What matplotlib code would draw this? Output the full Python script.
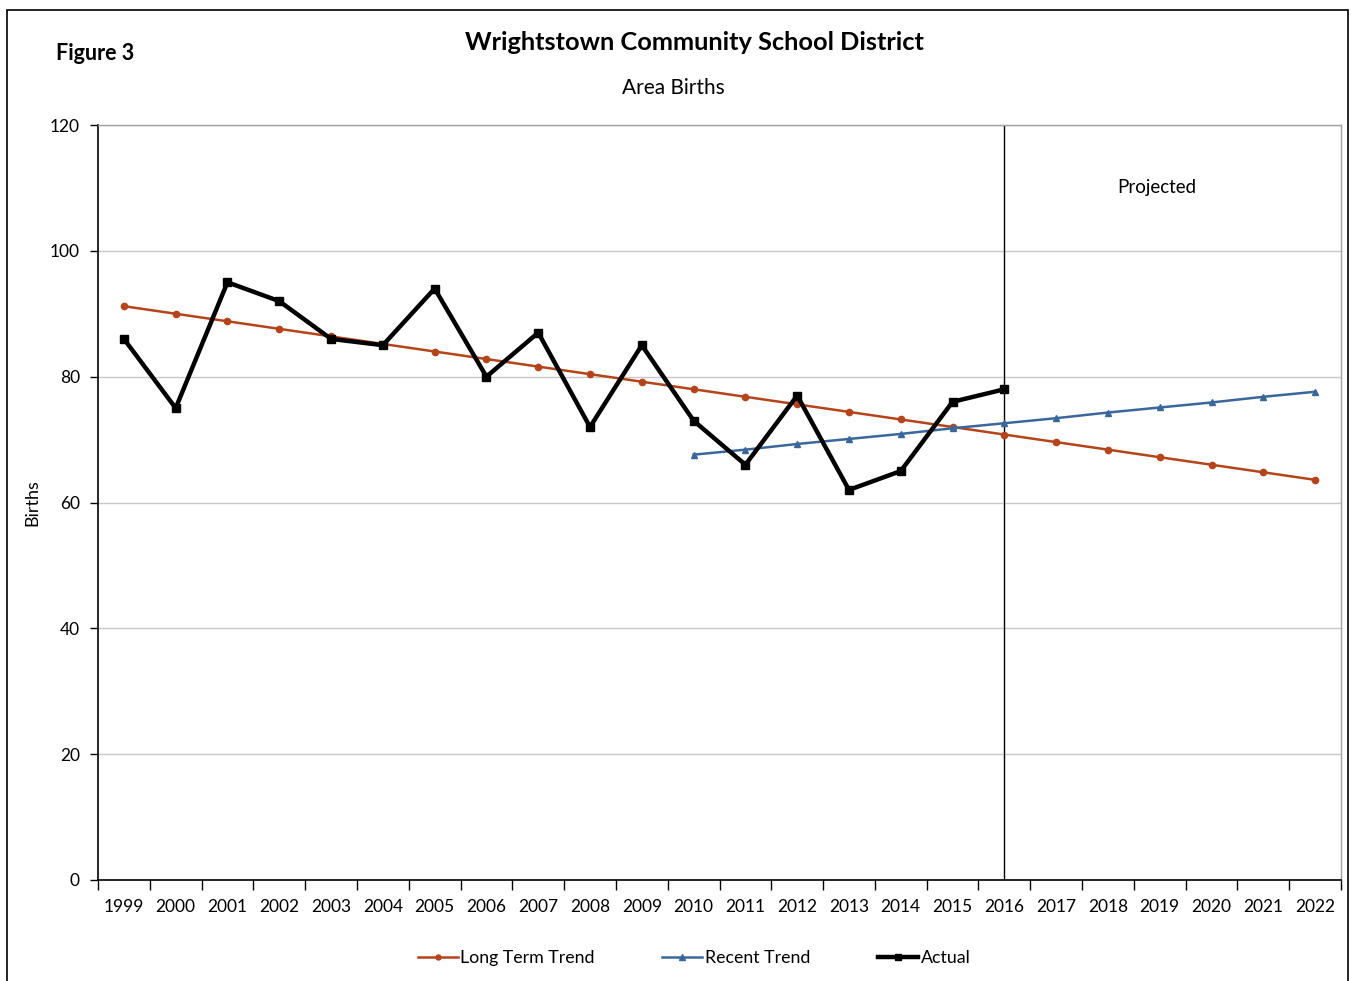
import matplotlib
matplotlib.use("Agg")
import matplotlib.pyplot as plt
from matplotlib.patches import Rectangle

years = [str(y) for y in range(1999, 2023)]
actual = [86, 75, 95, 92, 86, 85, 94, 80, 87, 72, 85, 73, 66, 77, 62, 65, 76, 78]
long_term = [91.2, 90.0, 88.8, 87.6, 86.4, 85.2, 84.0, 82.8, 81.6, 80.4, 79.2, 78.0,
             76.8, 75.6, 74.4, 73.2, 72.0, 70.8, 69.6, 68.4, 67.2, 66.0, 64.8, 63.6]
recent_years = [str(y) for y in range(2010, 2023)]
recent = [67.6, 68.4, 69.3, 70.1, 70.9, 71.8, 72.6, 73.4, 74.3, 75.1, 75.9, 76.8, 77.6]
yticks = [0, 20, 40, 60, 80, 100, 120]
split_year = "2016"

plt.rcParams['font.family'] = ['Lato', 'DejaVu Sans']

fig = plt.figure(figsize=(13.51, 9.81), dpi=100)
ax = fig.add_axes([98/1351, 1-880/981, (1341-98)/1351, (880-125)/981])

idx = {y: i for i, y in enumerate(years)}
x_all = list(range(len(years)))
x_act = x_all[:len(actual)]
x_rec = [idx[y] for y in recent_years]

orange = '#B5441B'
blue = '#3A679B'

ax.plot(x_all, long_term, color=orange, lw=1.8, marker='o', ms=4.5, label='Long Term Trend', zorder=3)
ax.plot(x_rec, recent, color=blue, lw=1.8, marker='^', ms=5, label='Recent Trend', zorder=3)
ax.plot(x_act, actual, color='black', lw=3.2, marker='s', ms=6, label='Actual', zorder=4)

ax.axvline(idx[split_year], color='black', lw=1.0, zorder=2)
ax.text(idx[split_year] + 2.95, 110, 'Projected', ha='center', va='center', fontsize=13.5)

ax.set_xlim(-0.5, len(years) - 0.5)
ax.set_ylim(0, 120)
ax.set_yticks(yticks)
ax.set_yticklabels([str(v) for v in yticks], fontsize=12.5)
ax.yaxis.grid(True, color='#c8c8c8', lw=1.0)
ax.set_axisbelow(True)

ax.set_xticks(x_all)
ax.set_xticklabels(years, fontsize=12.5)
ax.set_xticks([i - 0.5 for i in range(len(years) + 1)], minor=True)
ax.tick_params(axis='x', which='major', length=0, pad=14)
ax.tick_params(axis='x', which='minor', length=7, width=1, direction='out', color='black')
ax.tick_params(axis='y', length=6, width=1, direction='out', pad=7)

for s in ['left', 'bottom']:
    ax.spines[s].set_color('black')
    ax.spines[s].set_linewidth(1.2)
for s in ['top', 'right']:
    ax.spines[s].set_color('#a0a0a0')
    ax.spines[s].set_linewidth(1.0)

fig.text(32/1351, 1-503/981, 'Births', ha='center', va='center', rotation=90, fontsize=13)

fig.text(694/1351, 1-42/981, 'Wrightstown Community School District', ha='center', va='center',
         fontsize=18.3, fontweight='bold')
fig.text(673/1351, 1-88/981, 'Area Births', ha='center', va='center', fontsize=15)
fig.text(95/1351, 1-53/981, 'Figure 3', ha='center', va='center', fontsize=15.5, fontweight='bold')

fig.legend(loc='center', bbox_to_anchor=(694/1351, 1-958/981), ncol=3, frameon=False,
           fontsize=12.8, handlelength=2.25, columnspacing=3.8, handletextpad=0.15,
           markerscale=0.8)

fig.patches.append(Rectangle((7/1351, -0.05), (1348-7)/1351, 1.05 - 10/981,
                             transform=fig.transFigure, fill=False, edgecolor='black', lw=1.2))

fig.savefig('out.png', dpi=100)
